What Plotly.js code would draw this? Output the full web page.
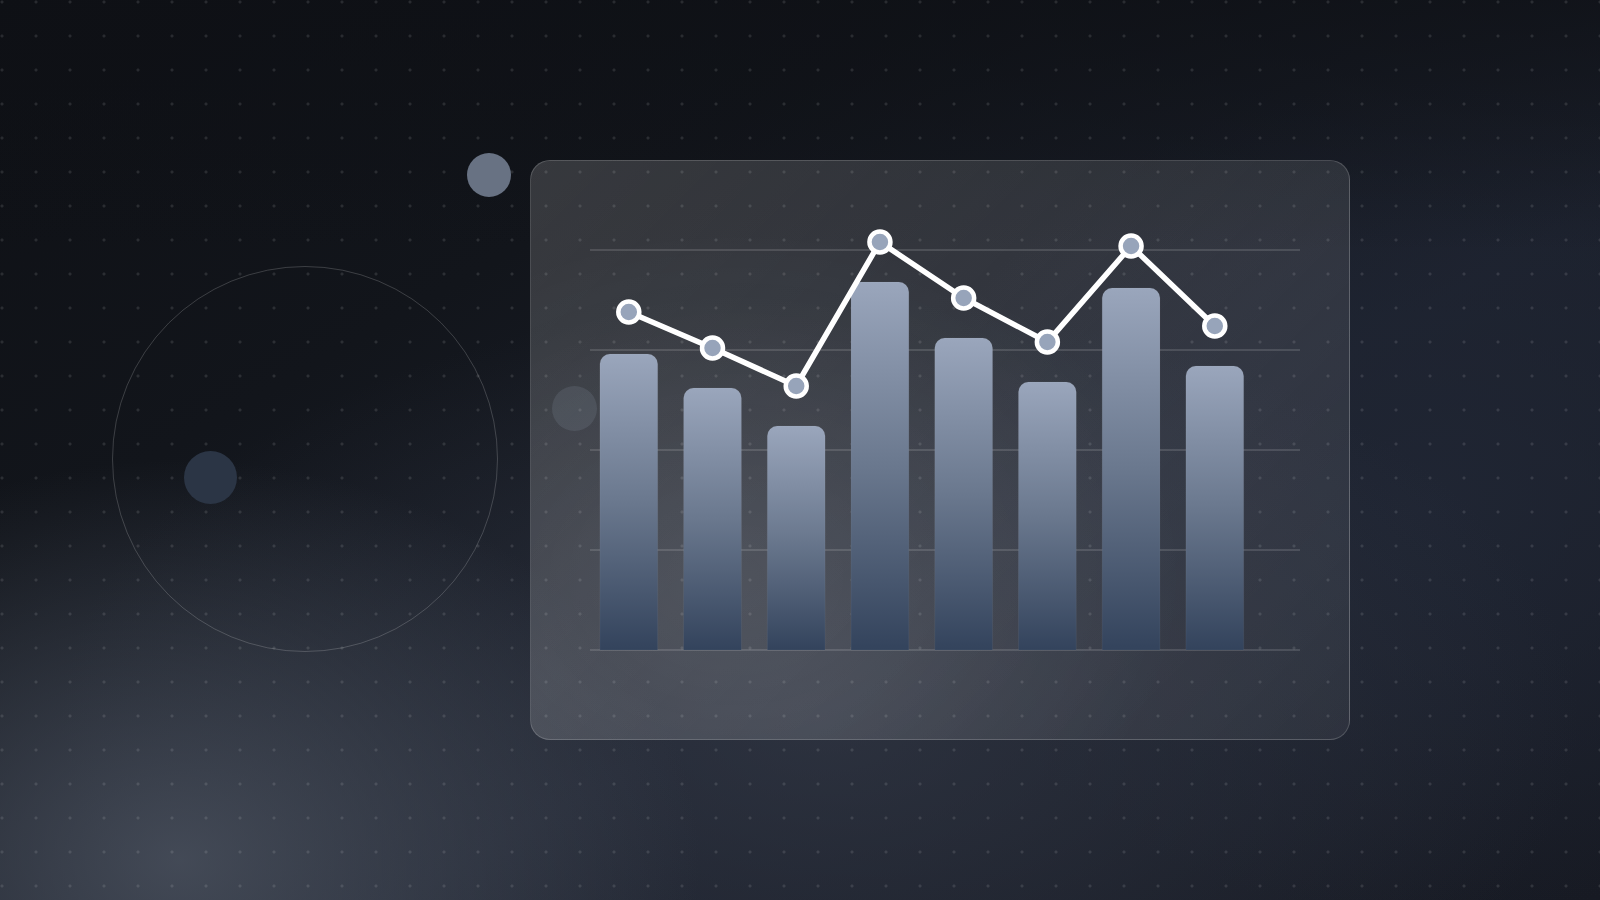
<!DOCTYPE html>
<html>
<head>
<meta charset="utf-8">
<script src="https://cdn.plot.ly/plotly-3.0.1.min.js"></script>
<style>
  html, body {
    margin: 0;
    padding: 0;
    width: 1600px;
    height: 900px;
    overflow: hidden;
  }
  body {
    position: relative;
    background:
      radial-gradient(circle at 2px 2px, rgba(255,255,255,0.11) 1.3px, rgba(255,255,255,0) 1.8px) 0 0 / 34px 34px,
      linear-gradient(180deg, rgba(14,16,21,0.7) 0%, rgba(14,16,21,0) 28%),
      radial-gradient(ellipse 520px 400px at 180px 860px, rgba(74,81,94,0.85), rgba(74,81,94,0) 100%),
      radial-gradient(ellipse 760px 420px at 820px 720px, rgba(58,64,78,0.55), rgba(58,64,78,0) 100%),
      radial-gradient(ellipse 520px 420px at 1430px 500px, rgba(32,38,52,0.9), rgba(32,38,52,0) 100%),
      linear-gradient(150deg, #0e1015 0%, #12151b 30%, #1c212d 62%, #171a23 100%);
  }
  .deco { position: absolute; border-radius: 50%; }
  /* big outlined ring on the left */
  #ring { left: 112px; top: 266px; width: 386px; height: 386px; border: 1.5px solid rgba(255,255,255,0.18); box-sizing: border-box; }
  #dotA { left: 184px; top: 451px; width: 53px; height: 53px; background: #2b3545; }
  #dotB { left: 467px; top: 153px; width: 44px; height: 44px; background: #687283; }
  #dotC { left: 552px; top: 386px; width: 45px; height: 45px; background: rgba(150,160,178,0.16); }
  #card {
    position: absolute;
    left: 530px; top: 160px;
    width: 820px; height: 580px;
    box-sizing: border-box;
    border-radius: 20px;
    border: 1.5px solid rgba(255,255,255,0.17);
    background:
      radial-gradient(ellipse 55% 60% at 25% 72%, rgba(255,255,255,0.09), rgba(255,255,255,0) 100%),
      linear-gradient(135deg, rgba(255,255,255,0.16), rgba(255,255,255,0.06));
  }
  #chart { position: absolute; left: 0; top: 0; width: 1600px; height: 900px; }
</style>
</head>
<body>
<div id="ring" class="deco"></div>
<div id="dotA" class="deco"></div>
<div id="dotB" class="deco"></div>
<div id="card"></div>
<div id="dotC" class="deco"></div>
<div id="chart"></div>

<script>
//Positions of the eight columns and the values
var slots = [0, 1, 2, 3, 4, 5, 6, 7];
var barValues = [74, 65.5, 56, 92, 78, 67, 90.5, 71];
var lineValues = [84.5, 75.5, 66, 102, 88, 77, 101, 81];
var gridTicks = [0, 25, 50, 75, 100];

//Bars, drawn first so the line sits on top
var bars = {
    x: slots,
    y: barValues,
    type: 'bar',
    width: 0.69,
    marker: {
        color: '#6b7a90',
        cornerradius: 10,
        line: { color: 'rgba(255,255,255,0.05)', width: 1 }
    },
    hoverinfo: 'y'
};

//White line with grey filled points
var line = {
    x: slots,
    y: lineValues,
    type: 'scatter',
    mode: 'lines+markers',
    line: { color: '#ffffff', width: 5.5 },
    marker: {
        size: 21,
        color: '#97a4ba',
        line: { color: '#ffffff', width: 4.5 }
    },
    cliponaxis: false,
    hoverinfo: 'y'
};

var layout = {
    width: 1600,
    height: 900,
    showlegend: false,
    paper_bgcolor: 'rgba(0,0,0,0)',
    plot_bgcolor: 'rgba(0,0,0,0)',
    margin: { l: 590, r: 300, t: 210, b: 246, pad: 0 },
    xaxis: {
        range: [-0.4635, 8.018],
        showgrid: false,
        zeroline: false,
        showline: false,
        showticklabels: false,
        ticks: '',
        fixedrange: true
    },
    yaxis: {
        range: [-1, 110],
        tickmode: 'array',
        tickvals: gridTicks,
        showticklabels: false,
        ticks: '',
        showgrid: true,
        gridcolor: 'rgba(255,255,255,0.13)',
        gridwidth: 1.5,
        zeroline: false,
        showline: false,
        fixedrange: true
    }
};

//Gives every bar a light-to-dark fade from top to bottom
function fadeBars(gd) {
    var svg = gd.querySelector('svg.main-svg');
    var defs = svg.querySelector('defs');
    var ns = 'http://www.w3.org/2000/svg';
    var grad = document.createElementNS(ns, 'linearGradient');
    grad.setAttribute('id', 'barFade');
    grad.setAttribute('x1', '0');
    grad.setAttribute('y1', '0');
    grad.setAttribute('x2', '0');
    grad.setAttribute('y2', '1');
    [['0', '#9aa6bc'], ['0.5', '#6a788e'], ['1', '#33435c']].forEach(function(s) {
        var stop = document.createElementNS(ns, 'stop');
        stop.setAttribute('offset', s[0]);
        stop.setAttribute('stop-color', s[1]);
        grad.appendChild(stop);
    });
    defs.appendChild(grad);
    gd.querySelectorAll('.barlayer .point path').forEach(function(p) {
        p.style.fill = 'url(#barFade)';
    });
}

Plotly.newPlot('chart', [bars, line], layout, { staticPlot: true }).then(fadeBars);
</script>
</body>
</html>
